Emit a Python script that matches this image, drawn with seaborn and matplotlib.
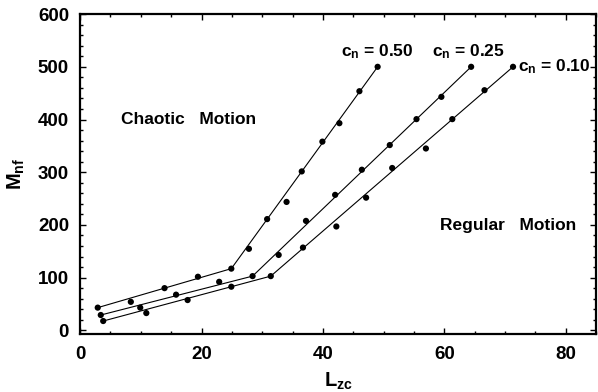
import numpy as np
import pandas as pd
import matplotlib
matplotlib.use("Agg")
import matplotlib.pyplot as plt
import seaborn as sns
from matplotlib.ticker import MultipleLocator

# measured points (L_zc, M_nf) for each c_n
x_050 = [2.9, 8.35, 13.9, 19.4, 24.9, 27.8, 30.8, 34.0, 36.5, 39.9, 42.7, 46.0, 49.0]
y_050 = [43, 54, 80, 101.6, 117, 154.6, 211, 243.6, 301.5, 358, 393, 453.7, 500]

x_025 = [3.4, 9.9, 15.8, 22.9, 28.4, 32.7, 37.2, 42.0, 46.4, 51.0, 55.4, 59.5, 64.4]
y_025 = [29, 43, 67.6, 92, 102.8, 143, 207.6, 257, 304.7, 351.5, 400.7, 443, 500]

x_010 = [3.8, 10.9, 17.7, 24.9, 31.4, 36.7, 42.2, 47.1, 51.4, 56.95, 61.3, 66.6, 71.3]
y_010 = [17.6, 32.7, 57.4, 82.7, 102.8, 157, 197, 251.7, 308, 345, 400.7, 455.6, 500]

# fitted broken lines: start, kink, end
fit_x_050 = [2.9, 24.9, 49.0]
fit_y_050 = [43, 117, 500]
fit_x_025 = [3.4, 28.4, 64.4]
fit_y_025 = [29, 102.8, 500]
fit_x_010 = [3.8, 31.4, 71.3]
fit_y_010 = [17.6, 102.8, 500]

series = ["0.50", "0.25", "0.10"]

pts = pd.concat([
    pd.DataFrame({"L": x_050, "M": y_050, "cn": "0.50"}),
    pd.DataFrame({"L": x_025, "M": y_025, "cn": "0.25"}),
    pd.DataFrame({"L": x_010, "M": y_010, "cn": "0.10"}),
], ignore_index=True)
fits = pd.concat([
    pd.DataFrame({"L": fit_x_050, "M": fit_y_050, "cn": "0.50"}),
    pd.DataFrame({"L": fit_x_025, "M": fit_y_025, "cn": "0.25"}),
    pd.DataFrame({"L": fit_x_010, "M": fit_y_010, "cn": "0.10"}),
], ignore_index=True)

sns.set_theme(style="ticks", rc={"text.color": "black", "axes.labelcolor": "black",
                                 "xtick.color": "black", "ytick.color": "black",
                                 "axes.edgecolor": "black"})
plt.rcParams['font.family'] = ['Liberation Sans', 'DejaVu Sans']
plt.rcParams['font.weight'] = 'bold'
plt.rcParams['mathtext.fontset'] = 'custom'
plt.rcParams['mathtext.rm'] = 'Liberation Sans:bold'
plt.rcParams['mathtext.it'] = 'Liberation Sans:bold'
plt.rcParams['mathtext.bf'] = 'Liberation Sans:bold'
plt.rcParams['mathtext.default'] = 'rm'

fig = plt.figure(figsize=(5.98, 3.92), dpi=100)
ax = fig.add_axes([0.134, 0.148, 0.863, 0.816])

pal = {s: "black" for s in series}
for s in series:
    d = fits[fits["cn"] == s]
    sns.lineplot(data=d, x="L", y="M", sort=False, color="black", linewidth=0.8,
                 estimator=None, ax=ax, legend=False)
sns.scatterplot(data=pts, x="L", y="M", hue="cn", palette=pal, s=20,
                edgecolor="black", linewidth=0, legend=False, ax=ax, zorder=3)

ax.set_xlim(0, 85)
ax.set_ylim(-7, 600)
ax.xaxis.set_major_locator(MultipleLocator(20))
ax.xaxis.set_minor_locator(MultipleLocator(5))
ax.yaxis.set_major_locator(MultipleLocator(100))
ax.yaxis.set_minor_locator(MultipleLocator(20))
ax.tick_params(which="both", direction="in", top=True, right=True, width=1.0)
ax.tick_params(which="major", length=4, labelsize=13.5)
ax.tick_params(axis="x", which="major", pad=9)
ax.tick_params(axis="y", which="major", pad=8)
ax.tick_params(which="minor", length=2.5)
for lab in ax.get_xticklabels() + ax.get_yticklabels():
    lab.set_fontweight("bold")
for sp in ax.spines.values():
    sp.set_linewidth(1.6)

ax.set_xlabel(r"L$_{\mathregular{zc}}$", fontsize=14.5, fontweight="bold", labelpad=5)
ax.set_ylabel(r"M$_{\mathregular{nf}}$", fontsize=14.5, fontweight="bold", labelpad=8)

ax.text(43, 528, r"c$_\mathregular{n}$ = 0.50", fontsize=12.5, fontweight="bold", va="center")
ax.text(57.9, 528, r"c$_\mathregular{n}$ = 0.25", fontsize=12.5, fontweight="bold", va="center")
ax.text(72.2, 500, r"c$_\mathregular{n}$ = 0.10", fontsize=12.5, fontweight="bold", va="center")
ax.text(6.8, 400, "Chaotic   Motion", fontsize=12.5, fontweight="bold", va="center")
ax.text(59.2, 198, "Regular   Motion", fontsize=12.5, fontweight="bold", va="center")

fig.savefig("out.png", dpi=100)
